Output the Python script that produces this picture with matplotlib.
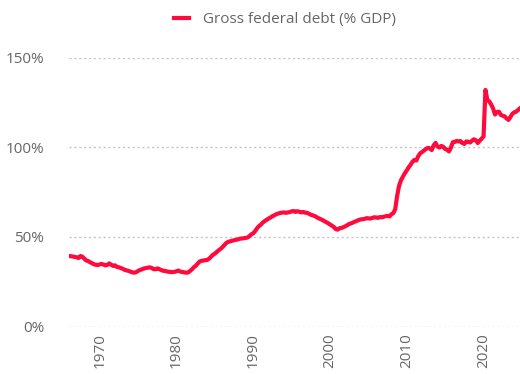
import numpy as np
import matplotlib.pyplot as plt

# Gross federal debt as % of GDP, quarterly, 1966 Q1 - 2024 Q4
years = np.arange(1966, 2025)
debt_by_year = [
    [39.3, 39.2, 39.0, 38.8],  # 1966
    [38.6, 38.2, 39.3, 38.9],
    [37.8, 36.8, 36.5, 35.8],
    [35.3, 34.7, 34.4, 34.3],
    [34.6, 34.9, 34.5, 34.1],  # 1970
    [34.4, 35.2, 34.4, 33.8],
    [34.1, 33.2, 33.0, 32.6],
    [32.2, 31.6, 31.3, 31.0],
    [30.6, 30.2, 30.0, 30.3],
    [31.0, 31.5, 31.9, 32.3],
    [32.6, 32.8, 33.0, 32.7],
    [32.0, 31.9, 32.4, 32.0],
    [31.5, 31.1, 31.0, 30.7],
    [30.5, 30.4, 30.3, 30.5],
    [30.8, 31.2, 30.6, 30.4],  # 1980
    [30.2, 30.0, 30.1, 30.9],
    [31.8, 33.0, 33.8, 35.0],
    [36.2, 36.6, 36.8, 37.0],
    [37.1, 37.8, 38.9, 40.0],
    [40.6, 41.6, 42.5, 43.3],
    [44.3, 45.5, 46.6, 47.2],
    [47.5, 47.8, 48.1, 48.3],
    [48.6, 48.9, 49.1, 49.2],
    [49.4, 49.6, 50.4, 51.4],
    [52.0, 53.2, 54.8, 56.0],  # 1990
    [56.8, 58.0, 58.8, 59.5],
    [60.2, 60.8, 61.5, 62.0],
    [62.6, 63.0, 63.3, 63.5],
    [63.6, 63.4, 63.6, 63.8],
    [64.2, 64.4, 63.9, 64.3],
    [64.0, 63.6, 63.9, 63.5],
    [63.4, 62.9, 62.3, 62.0],
    [61.6, 61.0, 60.4, 59.9],
    [59.4, 58.8, 58.2, 57.6],
    [56.9, 56.2, 55.5, 54.3],  # 2000
    [54.0, 54.8, 55.0, 55.4],
    [55.9, 56.5, 57.2, 57.5],
    [58.0, 58.5, 58.9, 59.4],
    [59.7, 59.8, 60.0, 60.4],
    [60.3, 60.2, 60.5, 60.9],
    [60.8, 60.6, 61.0, 60.9],
    [61.2, 61.5, 61.7, 61.4],
    [62.6, 63.2, 65.5, 73.0],
    [78.5, 81.6, 83.6, 85.5],
    [87.0, 88.8, 90.2, 91.9],  # 2010
    [92.9, 92.6, 95.0, 96.6],
    [97.3, 98.2, 99.0, 99.6],
    [99.3, 98.4, 101.0, 102.4],
    [100.4, 99.8, 100.7, 100.2],
    [99.0, 98.6, 97.6, 99.8],
    [102.8, 102.9, 103.5, 103.2],
    [103.4, 102.3, 101.8, 103.2],
    [103.0, 102.6, 103.6, 104.4],
    [103.8, 102.3, 103.6, 104.7],
    [106.0, 131.9, 126.3, 125.5],  # 2020
    [123.8, 121.5, 118.2, 119.6],
    [119.8, 118.0, 117.5, 117.2],
    [116.0, 115.2, 116.8, 118.6],
    [119.4, 119.8, 120.8, 121.7],
]
y_ticks = [0, 50, 100, 150]
x_ticks = [1970, 1980, 1990, 2000, 2010, 2020]

dates = (years[:, None] + np.arange(4)[None, :] * 0.25).ravel()
debt = np.array(debt_by_year).ravel()

plt.rcParams["font.family"] = ["Open Sans", "DejaVu Sans"]
red = "#ff0a3c"
grey = "#666666"

fig = plt.figure(figsize=(5.2, 3.74), dpi=100)
ax = fig.add_axes([69 / 520, 1 - 326.5 / 374, 1 - 69 / 520, (326.5 - 57.5) / 374])

ax.plot(dates, debt, color=red, lw=3.0, solid_joinstyle="round",
        label="Gross federal debt (% GDP)")

ax.set_xlim(1966, 2024.75)
ax.set_ylim(0, 150)
ax.set_yticks(y_ticks)
ax.set_yticklabels([f"{t}%" for t in y_ticks])
ax.set_xticks(x_ticks)
ax.set_xticklabels([str(t) for t in x_ticks], rotation=90)
ax.tick_params(length=0, colors=grey, labelsize=11)
ax.tick_params(axis="y", pad=18)
ax.tick_params(axis="x", pad=5)
ax.yaxis.grid(True, color="#c4c4c4", lw=1, linestyle=(0, (1.5, 2)))
ax.set_axisbelow(True)
for s in ax.spines.values():
    s.set_visible(False)

leg = fig.legend(loc="upper center", bbox_to_anchor=(0.548, 1.005), frameon=False,
                 fontsize=11, handlelength=1.0, handletextpad=0.9)
for t in leg.get_texts():
    t.set_color(grey)

fig.savefig("out.png", dpi=100)
